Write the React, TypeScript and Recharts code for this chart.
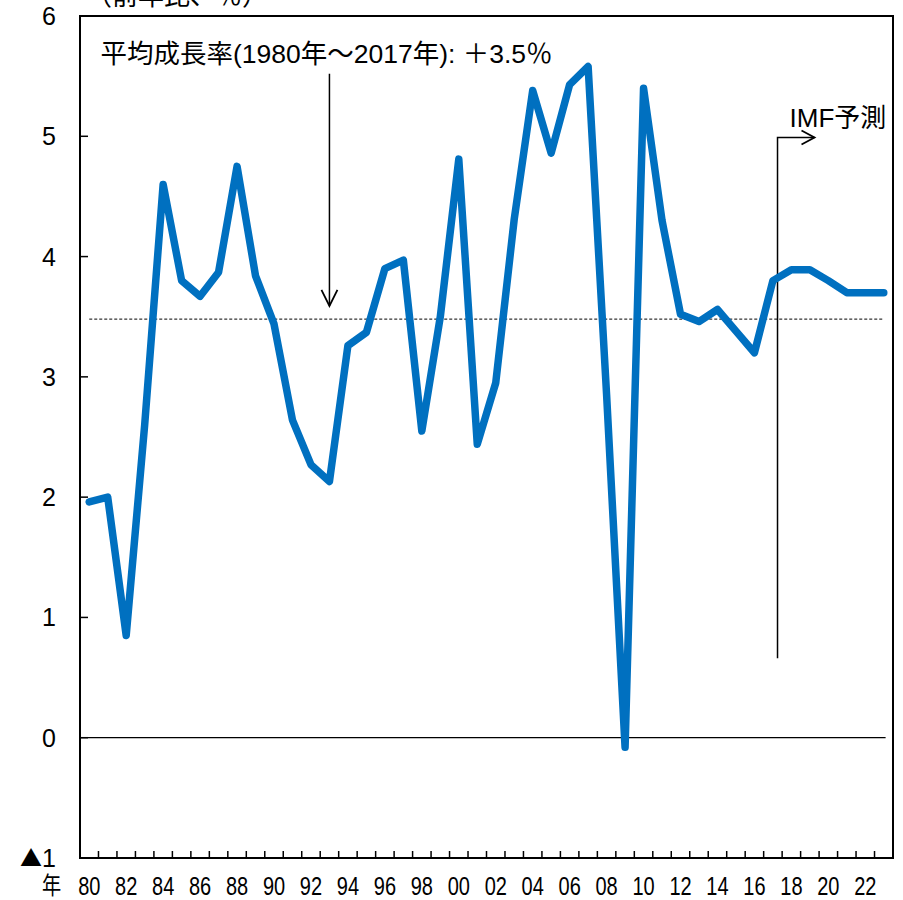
import React from "react";
import { LineChart, Line, XAxis, YAxis, ReferenceLine, ReferenceArea } from "recharts";

const years = [
  1980, 1981, 1982, 1983, 1984, 1985, 1986, 1987, 1988, 1989,
  1990, 1991, 1992, 1993, 1994, 1995, 1996, 1997, 1998, 1999,
  2000, 2001, 2002, 2003, 2004, 2005, 2006, 2007, 2008, 2009,
  2010, 2011, 2012, 2013, 2014, 2015, 2016, 2017, 2018, 2019,
  2020, 2021, 2022, 2023,
];
const growth = [
  1.96, 2.0, 0.85, 2.6, 4.6, 3.8, 3.67, 3.87, 4.75, 3.84,
  3.44, 2.64, 2.27, 2.13, 3.26, 3.37, 3.9, 3.97, 2.55, 3.5,
  4.81, 2.44, 2.95, 4.31, 5.38, 4.86, 5.43, 5.58, 2.85, -0.08,
  5.4, 4.3, 3.52, 3.46, 3.56, 3.38, 3.2, 3.8, 3.89, 3.89,
  3.8, 3.7, 3.7, 3.7,
];
const yTicks = [-1, 0, 1, 2, 3, 4, 5, 6];
const xLabelYears = [
  1980, 1982, 1984, 1986, 1988, 1990, 1992, 1994, 1996, 1998, 2000,
  2002, 2004, 2006, 2008, 2010, 2012, 2014, 2016, 2018, 2020, 2022,
];
const averageGrowth = 3.48;
const averageLabel = "平均成長率(1980年～2017年): ＋3.5％";
const averageArrowYear = 1993;
const averageArrowFrom = 5.52;
const averageArrowTo = 3.59;
const forecastYear = 2017.25;
const forecastFrom = 0.66;
const forecastTo = 4.99;
const forecastLabel = "IMF予測";
const unitLabel = "（前年比、％）";

const FONT = "'Liberation Sans', 'Noto Sans CJK JP', sans-serif";
const CJK = "'Noto Sans CJK JP', sans-serif";

const data = years.map((y, i) => ({ year: y, value: growth[i] }));
const boundaryTicks = years.slice(0, -1).map((y) => y + 0.5);
const xTicks = [...xLabelYears, ...boundaryTicks].sort((a, b) => a - b);
const xMin = years[0] - 0.5;
const xMax = years[years.length - 1] + 0.5;

function XTick(props: any) {
  const { x, y, payload } = props;
  const v = payload.value as number;
  if (!Number.isInteger(v)) {
    return <line x1={x} x2={x} y1={y} y2={y - 7} stroke="#000" strokeWidth={1.5} />;
  }
  const label = String(v % 100).padStart(2, "0");
  return (
    <g transform={`translate(${x},${y + 37}) scale(0.8,1)`}>
      <text textAnchor="middle" fontSize={25} fontFamily={FONT} fill="#000">
        {label}
      </text>
      {v === years[0] && (
        <text x={-47} y={-1} textAnchor="middle" fontSize={24} fontFamily={CJK} fill="#000">
          年
        </text>
      )}
    </g>
  );
}

function YTick(props: any) {
  const { x, y, payload } = props;
  const v = payload.value as number;
  return (
    <g>
      <line x1={x} x2={x + 8} y1={y} y2={y} stroke="#000" strokeWidth={1.5} />
      <text x={x - 24} y={y + 9} textAnchor="end" fontSize={25} fontFamily={FONT} fill="#000">
        {v < 0 && (
          <tspan fontFamily={CJK} fontSize={22} dy={-1}>
            ▲
          </tspan>
        )}
        <tspan dy={v < 0 ? 1 : 0}>{String(Math.abs(v))}</tspan>
      </text>
    </g>
  );
}

function AverageArrow(props: any) {
  const { x1, y1, x2, y2 } = props;
  return (
    <g>
      <line x1={x1} y1={y1} x2={x2} y2={y2} stroke="#000" strokeWidth={1.5} />
      <polyline
        points={`${x2 - 8},${y2 - 16} ${x2},${y2} ${x2 + 8},${y2 - 16}`}
        fill="none"
        stroke="#000"
        strokeWidth={1.8}
      />
      <text x={x1 - 229} y={y1 - 11} fontSize={26.5} fontFamily={FONT} fill="#000">
        {averageLabel}
      </text>
    </g>
  );
}

function ForecastArrow(props: any) {
  const { x1, y1, x2, y2 } = props;
  const top = Math.min(y1, y2);
  const bottom = Math.max(y1, y2);
  const tipX = x1 + 37;
  return (
    <g>
      <polyline
        points={`${x1},${bottom} ${x1},${top} ${tipX},${top}`}
        fill="none"
        stroke="#000"
        strokeWidth={1.5}
      />
      <polyline
        points={`${tipX - 13},${top - 7} ${tipX},${top} ${tipX - 13},${top + 7}`}
        fill="none"
        stroke="#000"
        strokeWidth={1.8}
      />
      <text x={x1 + 12} y={top - 10} fontSize={26} fontFamily={FONT} fill="#000">
        {forecastLabel}
      </text>
    </g>
  );
}

export default function App() {
  return (
    <div style={{ position: "absolute", left: 0, top: 0, width: 903, height: 900, background: "#fff" }}>
      <svg
        width={903}
        height={30}
        style={{ position: "absolute", left: 0, top: 0 }}
      >
        <text x={86} y={5} fontSize={26} fontFamily={FONT} fill="#000">
          {unitLabel}
        </text>
      </svg>
      <div style={{ position: "absolute", left: 0, top: 0 }}>
        <LineChart
          width={903}
          height={900}
          data={data}
          margin={{ top: 16, right: 10, bottom: 0, left: 0 }}
        >
          <XAxis
            dataKey="year"
            type="number"
            domain={[xMin, xMax]}
            ticks={xTicks}
            interval={0}
            allowDataOverflow
            height={42}
            axisLine={false}
            tickLine={false}
            tickSize={0}
            tickMargin={0}
            tick={<XTick />}
          />
          <YAxis
            type="number"
            domain={[-1, 6]}
            ticks={yTicks}
            interval={0}
            allowDataOverflow
            width={80}
            axisLine={false}
            tickLine={false}
            tickSize={0}
            tickMargin={0}
            tick={<YTick />}
          />
          <ReferenceArea
            x1={xMin}
            x2={xMax}
            y1={-1}
            y2={6}
            fill="none"
            fillOpacity={0}
            stroke="#000"
            strokeWidth={2}
            strokeOpacity={1}
          />
          <ReferenceLine
            segment={[{ x: xMin, y: 0 }, { x: 2023.1, y: 0 }]}
            stroke="#000"
            strokeWidth={1.2}
          />
          <ReferenceLine
            segment={[{ x: years[0], y: averageGrowth }, { x: years[years.length - 1], y: averageGrowth }]}
            stroke="#000"
            strokeWidth={1}
            strokeDasharray="3 2"
          />
          <ReferenceLine
            segment={[{ x: averageArrowYear, y: averageArrowFrom }, { x: averageArrowYear, y: averageArrowTo }]}
            shape={(p: any) => <AverageArrow {...p} />}
          />
          <ReferenceLine
            segment={[{ x: forecastYear, y: forecastFrom }, { x: forecastYear, y: forecastTo }]}
            shape={(p: any) => <ForecastArrow {...p} />}
          />
          <Line
            type="linear"
            dataKey="value"
            stroke="#0070C0"
            strokeWidth={7.5}
            strokeLinejoin="round"
            strokeLinecap="round"
            dot={false}
            activeDot={false}
            isAnimationActive={false}
          />
        </LineChart>
      </div>
    </div>
  );
}
